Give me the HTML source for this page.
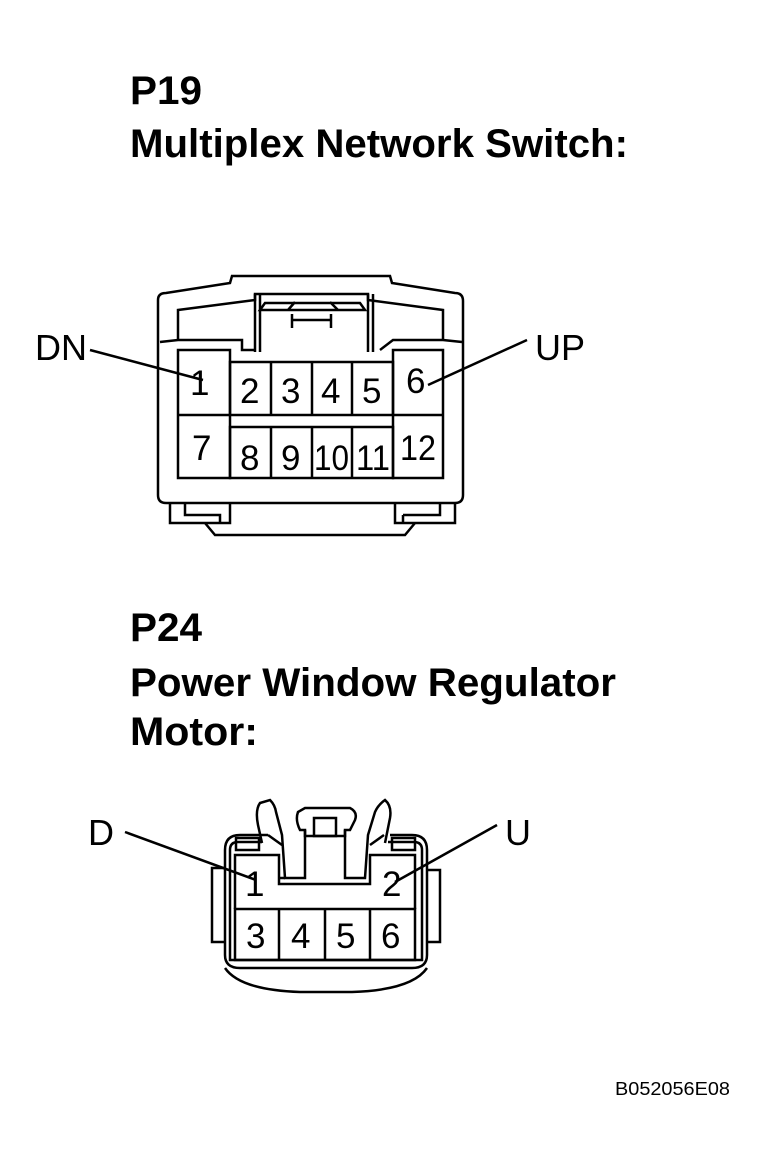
<!DOCTYPE html>
<html><head><meta charset="utf-8"><style>
html,body{margin:0;padding:0;background:#fff;}
svg{display:block;}
text{font-family:"Liberation Sans",Arial,sans-serif;fill:#000;}
.t{font-weight:bold;font-size:40px;}
.n{font-size:35px;}
.l{font-size:36px;}
</style></head><body>
<svg width="768" height="1171" viewBox="0 0 768 1171" xmlns="http://www.w3.org/2000/svg">
<text class="t" x="130" y="104" textLength="72" lengthAdjust="spacingAndGlyphs">P19</text>
<text class="t" x="130" y="157" textLength="498" lengthAdjust="spacingAndGlyphs">Multiplex Network Switch:</text>
<text class="t" x="130" y="641" textLength="72" lengthAdjust="spacingAndGlyphs">P24</text>
<text class="t" x="130" y="696" textLength="486" lengthAdjust="spacingAndGlyphs">Power Window Regulator</text>
<text class="t" x="130" y="745" textLength="128" lengthAdjust="spacingAndGlyphs">Motor:</text>

<g fill="none" stroke="#000" stroke-width="2.5">
<path d="M158,300 Q158,293 166,293 L230,283 L232,276 L390,276 L392,283 L455,293 Q463,293 463,301 L463,495 Q463,503 455,503 L166,503 Q158,503 158,495 Z"/>
<path d="M178,340 L178,310 L255,300 L255,294 L368,294 L368,300 L443,310 L443,340"/>
<path d="M160,342 L178,340 L242,340 L242,350 L255,350 M443,340 L462,342 M380,350 L393,340 L443,340"/>
<line x1="255" y1="294" x2="255" y2="352"/><line x1="260" y1="294" x2="260" y2="352"/>
<line x1="368" y1="294" x2="368" y2="352"/><line x1="373" y1="294" x2="373" y2="352"/>
<path d="M260,310 L265,303 L360,303 L365,310 Z M288,310 L295,302 M330,302 L338,310"/>
<line x1="292" y1="320" x2="331" y2="320"/><line x1="292" y1="314" x2="292" y2="328"/><line x1="331" y1="314" x2="331" y2="328"/>
<rect x="178" y="350" width="52" height="128"/>
<rect x="393" y="350" width="50" height="128"/>
<line x1="178" y1="415" x2="230" y2="415"/><line x1="393" y1="415" x2="443" y2="415"/>
<rect x="230" y="362" width="163" height="53"/>
<rect x="230" y="427" width="163" height="51"/>
<line x1="271" y1="362" x2="271" y2="415"/><line x1="312" y1="362" x2="312" y2="415"/><line x1="352" y1="362" x2="352" y2="415"/>
<line x1="271" y1="427" x2="271" y2="478"/><line x1="312" y1="427" x2="312" y2="478"/><line x1="352" y1="427" x2="352" y2="478"/>
<path d="M170,503 L170,523 L230,523 L230,503 M185,503 L185,515 L220,515 L220,523"/>
<path d="M395,503 L395,523 L455,523 L455,503 M403,515 L440,515 L440,503 M403,515 L403,523"/>
<path d="M205,523 L215,535 L405,535 L415,523"/>
<line x1="90" y1="350" x2="203" y2="380"/>
<line x1="527" y1="340" x2="428" y2="385"/>
</g>
<text class="l" x="35" y="360">DN</text>
<text class="l" x="535" y="360">UP</text>
<text class="n" x="190" y="395">1</text>
<text class="n" x="240" y="403">2</text>
<text class="n" x="281" y="403">3</text>
<text class="n" x="321" y="403">4</text>
<text class="n" x="362" y="403">5</text>
<text class="n" x="406" y="393">6</text>
<text class="n" x="192" y="460">7</text>
<text class="n" x="240" y="470">8</text>
<text class="n" x="281" y="470">9</text>
<text class="n" x="314" y="470" textLength="35" lengthAdjust="spacingAndGlyphs">10</text>
<text class="n" x="356" y="470" textLength="34" lengthAdjust="spacingAndGlyphs">11</text>
<text class="n" x="400" y="460" textLength="36" lengthAdjust="spacingAndGlyphs">12</text>

<g fill="none" stroke="#000" stroke-width="2.5">
<path d="M240,835 Q225,835 225,850 L225,955 Q225,968 240,968 L412,968 Q427,968 427,955 L427,850 Q427,835 412,835 L390,835"/>
<path d="M268,835 L240,835"/>
<path d="M230,850 Q230,842 238,842 L262,842 M230,850 L230,960 L422,960 L422,850 Q422,842 414,842 L388,842"/>
<path d="M225,968 Q240,990 300,992 L352,992 Q412,990 427,968"/>
<path d="M225,868 L212,868 L212,942 L225,942"/>
<path d="M427,870 L440,870 L440,942 L427,942"/>
<path d="M262,843 L258,825 Q255,810 260,803 L270,800 Q275,805 276,812 L282,835 L285,878 L305,878 L305,830 L300,830 Q295,820 298,812 L305,808 L350,808 Q358,812 355,820 L350,830 L345,830 L345,878 L365,878 L368,835 L375,812 Q378,805 385,800 Q392,806 390,818 L385,843"/>
<path d="M268,835 L282,845 M384,835 L370,845"/>
<rect x="314" y="818" width="22" height="18"/>
<path d="M305,830 L305,836 L345,836 L345,830"/>
<rect x="236" y="838" width="23" height="12"/>
<rect x="392" y="838" width="23" height="12"/>
<path d="M235,909 L235,855 L279,855 L279,884 L370,884 L370,855 L415,855 L415,909"/>
<line x1="279" y1="878" x2="285" y2="878"/>
<rect x="235" y="909" width="180" height="51"/>
<line x1="279" y1="909" x2="279" y2="960"/>
<line x1="370" y1="909" x2="370" y2="960"/>
<line x1="325" y1="909" x2="325" y2="960"/>
<line x1="125" y1="832" x2="256" y2="880"/>
<line x1="497" y1="825" x2="395" y2="882"/>
</g>
<text class="l" x="88" y="845">D</text>
<text class="l" x="505" y="845">U</text>
<text class="n" x="245" y="896">1</text>
<text class="n" x="382" y="896">2</text>
<text class="n" x="246" y="948">3</text>
<text class="n" x="291" y="948">4</text>
<text class="n" x="336" y="948">5</text>
<text class="n" x="381" y="948">6</text>
<text x="615" y="1095" style="font-size:18px" textLength="115" lengthAdjust="spacingAndGlyphs">B052056E08</text>
</svg>
</body></html>
